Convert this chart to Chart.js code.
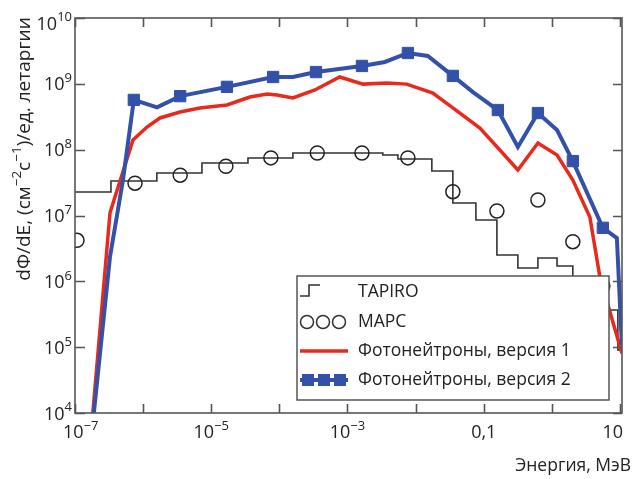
<!DOCTYPE html>
<html lang="ru">
<head>
  <meta charset="UTF-8">
  <title>Спектр фотонейтронов</title>
  <script src="https://cdn.jsdelivr.net/npm/chart.js"></script>
  <style>
    html, body { margin: 0; padding: 0; background: #fff; }
  </style>
</head>
<body>
  <canvas id="spectrum" width="641" height="479"></canvas>

  <script>
    // TAPIRO histogram: left bin edges (MeV) and flux
    const energyTapiro = [1e-7, 3.37e-7, 1.59e-6, 7.3e-6, 3.46e-5, 1.58e-4, 3.3e-3, 5.5e-3, 0.0173,
                          0.0352, 0.0767, 0.156, 0.317, 0.624, 1.19, 2.03, 3.61, 6.64, 9.3, 10.7];
    const fluxTapiro = [2.28e7, 3.34e7, 4.42e7, 6.27e7, 7.47e7, 8.9e7, 8.3e7, 7.2e7, 4.74e7,
                        1.55e7, 8.55e6, 2.51e6, 1.59e6, 2.26e6, 1.71e6, 8.8e5, 5.2e5, 3.66e5, 9.1e4, 9.1e4];

    // МАРС points
    const energyMars = [1.07e-7, 7.6e-7, 3.5e-6, 1.64e-5, 7.5e-5, 3.6e-4, 1.63e-3, 7.7e-3, 0.0352,
                        0.156, 0.624, 2.03, 5.6];
    const fluxMars = [4.2e6, 3.1e7, 4.1e7, 5.6e7, 7.5e7, 8.9e7, 8.9e7, 7.5e7, 2.3e7,
                      1.17e7, 1.72e7, 4.0e6, 8.5e5];

    // Фотонейтроны, версия 1
    const energyV1 = [1.69e-7, 3.26e-7, 3.86e-7, 7.1e-7, 1.14e-6, 1.77e-6, 3.48e-6, 6.8e-6, 1.7e-5,
                      3.7e-5, 6.6e-5, 9.2e-5, 1.58e-4, 3.33e-4, 7.7e-4, 1.69e-3, 3.8e-3, 7.4e-3,
                      0.0179, 0.0352, 0.0879, 0.317, 0.624, 1.19, 2.03, 3.61, 5.07, 10.66];
    const fluxV1 = [3.9e3, 1.09e7, 1.91e7, 1.4e8, 2.21e8, 3.03e8, 3.73e8, 4.3e8, 4.77e8,
                    6.31e8, 7.0e8, 6.76e8, 6.09e8, 8.06e8, 1.27e9, 9.9e8, 1.03e9, 9.9e8,
                    7.26e8, 4.3e8, 2.13e8, 4.91e7, 1.26e8, 8.3e7, 3.46e7, 9.5e6, 1.16e6, 8.1e4];

    // Фотонейтроны, версия 2 (markers only on some points)
    const energyV2 = [1.66e-7, 3.26e-7, 5.06e-7, 7.3e-7, 1.6e-6, 3.5e-6, 1.7e-5, 8.1e-5, 1.58e-4,
                      3.45e-4, 1.63e-3, 3.54e-3, 7.7e-3, 0.0151, 0.0352, 0.0694, 0.161, 0.317,
                      0.624, 1.19, 2.03, 5.6, 9.0, 10.66];
    const fluxV2 = [2.7e3, 2.34e6, 3.46e7, 5.7e8, 4.4e8, 6.5e8, 9.0e8, 1.27e9, 1.27e9,
                    1.51e9, 1.87e9, 2.15e9, 2.94e9, 2.65e9, 1.32e9, 7.5e8, 4.0e8, 1.1e8,
                    3.6e8, 1.99e8, 6.7e7, 6.5e6, 4.55e6, 1.08e5];
    const markedV2 = [3, 5, 6, 7, 9, 10, 12, 14, 16, 18, 20, 21];

    // tick labels: [base, exponent]
    const xTickValues = [1e-7, 1e-6, 1e-5, 1e-4, 1e-3, 1e-2, 0.1, 1, 10];
    const xTickLabels = [['10', '−7'], null, ['10', '−5'], null, ['10', '−3'], null, ['0,1', ''], null, ['10', '']];
    const yTickValues = [1e4, 1e5, 1e6, 1e7, 1e8, 1e9, 1e10];
    const yTickLabels = [['10', '4'], ['10', '5'], ['10', '6'], ['10', '7'], ['10', '8'], ['10', '9'], ['10', '10']];

    const FONT = '"Open Sans", sans-serif';
    const BLUE = '#3451aa';
    const RED = '#e8291c';
    const DARK = '#333';
    const TEXT = '#222';

    const pts = (xs, ys) => xs.map((x, i) => ({ x: x, y: ys[i] }));

    // text made of [string, isSup] pieces, drawn left-aligned at x, baseline y
    function runWidth(ctx, pieces, size, supSize) {
      let w = 0;
      pieces.forEach(p => {
        ctx.font = (p[1] ? supSize : size) + 'px ' + FONT;
        w += ctx.measureText(p[0]).width;
      });
      return w;
    }
    function drawRun(ctx, pieces, x, y, size, supSize) {
      pieces.forEach(p => {
        ctx.font = (p[1] ? supSize : size) + 'px ' + FONT;
        ctx.fillText(p[0], x, p[1] ? y - size * 0.45 : y);
        x += ctx.measureText(p[0]).width;
      });
    }

    // legend box drawn inside the plot, over the data
    const boxLegend = {
      id: 'boxLegend',
      afterDatasetsDraw(chart) {
        const ctx = chart.ctx;
        const ds = chart.data.datasets;
        ctx.save();
        ctx.fillStyle = '#fff';
        ctx.fillRect(297, 276, 312, 124);
        ctx.strokeStyle = '#555';
        ctx.lineWidth = 1.5;
        ctx.strokeRect(297, 276, 312, 124);

        const rows = [292, 322, 351, 380];
        // step icon
        ctx.strokeStyle = DARK;
        ctx.lineWidth = 1.6;
        ctx.beginPath();
        ctx.moveTo(300, rows[0] + 4);
        ctx.lineTo(309, rows[0] + 4);
        ctx.lineTo(309, rows[0] - 7);
        ctx.lineTo(320, rows[0] - 7);
        ctx.stroke();
        // circles
        ctx.lineWidth = 1.5;
        [307, 323, 339].forEach(cx => {
          ctx.beginPath();
          ctx.arc(cx, rows[1], 6.5, 0, Math.PI * 2);
          ctx.stroke();
        });
        // red line
        ctx.strokeStyle = RED;
        ctx.lineWidth = 3.5;
        ctx.beginPath();
        ctx.moveTo(300, rows[2]);
        ctx.lineTo(348, rows[2]);
        ctx.stroke();
        // blue line with squares
        ctx.strokeStyle = BLUE;
        ctx.lineWidth = 4;
        ctx.beginPath();
        ctx.moveTo(300, rows[3]);
        ctx.lineTo(348, rows[3]);
        ctx.stroke();
        ctx.fillStyle = BLUE;
        [308, 324, 340].forEach(cx => ctx.fillRect(cx - 6, rows[3] - 6, 12, 12));

        ctx.fillStyle = TEXT;
        ctx.font = '17.5px ' + FONT;
        ctx.textBaseline = 'middle';
        ctx.textAlign = 'left';
        ds.forEach((d, i) => ctx.fillText(d.label, 358, rows[i]));
        ctx.restore();
      }
    };

    // frame on four sides with inward ticks, tick labels and axis titles
    const frame = {
      id: 'frame',
      afterDraw(chart) {
        const ctx = chart.ctx;
        const a = chart.chartArea;
        const xs = chart.scales.x, ys = chart.scales.y;
        ctx.save();
        ctx.strokeStyle = '#555';
        ctx.lineWidth = 1.6;
        ctx.strokeRect(a.left, a.top, a.right - a.left, a.bottom - a.top);
        ctx.beginPath();
        xTickValues.forEach(v => {
          const px = Math.round(xs.getPixelForValue(v)) + 0.5;
          ctx.moveTo(px, a.bottom); ctx.lineTo(px, a.bottom - 9);
          ctx.moveTo(px, a.top); ctx.lineTo(px, a.top + 9);
        });
        yTickValues.forEach(v => {
          const py = Math.round(ys.getPixelForValue(v)) + 0.5;
          ctx.moveTo(a.left, py); ctx.lineTo(a.left + 10, py);
          ctx.moveTo(a.right, py); ctx.lineTo(a.right - 9, py);
        });
        ctx.stroke();

        ctx.fillStyle = TEXT;
        ctx.textBaseline = 'alphabetic';
        ctx.textAlign = 'left';

        // x tick labels
        xTickValues.forEach((v, i) => {
          const lab = xTickLabels[i];
          if (!lab) return;
          const pieces = [[lab[0], false], [lab[1], true]];
          const w = runWidth(ctx, pieces, 18, 13);
          let x0 = xs.getPixelForValue(v) - w / 2;
          x0 = Math.max(x0, a.left - 12);
          x0 = Math.min(x0, a.right + 1 - w);
          drawRun(ctx, pieces, x0, a.bottom + 25, 18, 13);
        });

        // y tick labels
        yTickValues.forEach((v, i) => {
          const lab = yTickLabels[i];
          const pieces = [[lab[0], false], [lab[1], true]];
          const w = runWidth(ctx, pieces, 18, 13);
          const cy = Math.max(ys.getPixelForValue(v), 23);
          drawRun(ctx, pieces, a.left - 3 - w, cy + 6.5, 18, 13);
        });

        // x title
        ctx.font = '17.5px ' + FONT;
        ctx.textAlign = 'right';
        ctx.textBaseline = 'middle';
        ctx.fillText('Энергия, МэВ', 631, 466);

        // y title, rotated
        const title = [['dΦ/dE, (см', false], ['−2', true], ['с', false], ['−1', true], [')/ед. летаргии', false]];
        ctx.textAlign = 'left';
        ctx.textBaseline = 'alphabetic';
        ctx.translate(30, 149);
        ctx.rotate(-Math.PI / 2);
        const tw = runWidth(ctx, title, 19, 13.5);
        drawRun(ctx, title, -tw / 2, 0, 19, 13.5);
        ctx.restore();
      }
    };

    new Chart(document.getElementById('spectrum'), {
      type: 'line',
      data: {
        datasets: [
          {
            label: 'TAPIRO',
            data: pts(energyTapiro, fluxTapiro),
            stepped: 'before',
            borderColor: DARK,
            borderWidth: 1.6,
            pointRadius: 0,
            fill: false,
            order: 3
          },
          {
            label: 'МАРС',
            data: pts(energyMars, fluxMars),
            showLine: false,
            pointStyle: 'circle',
            pointRadius: 7,
            pointBorderWidth: 1.5,
            pointBorderColor: '#222',
            pointBackgroundColor: 'rgba(0,0,0,0)',
            order: 2
          },
          {
            label: 'Фотонейтроны, версия 1',
            data: pts(energyV1, fluxV1),
            borderColor: RED,
            borderWidth: 3.5,
            pointRadius: 0,
            tension: 0,
            order: 1
          },
          {
            label: 'Фотонейтроны, версия 2',
            data: pts(energyV2, fluxV2),
            borderColor: BLUE,
            borderWidth: 4,
            pointStyle: 'rect',
            pointRadius: ctx => markedV2.includes(ctx.dataIndex) ? 8 : 0,
            pointBackgroundColor: BLUE,
            pointBorderColor: BLUE,
            pointBorderWidth: 1,
            tension: 0,
            order: 0
          }
        ]
      },
      options: {
        responsive: false,
        animation: false,
        layout: { padding: { top: 18, right: 19, left: 0, bottom: 0 } },
        plugins: {
          legend: { display: false },
          tooltip: { enabled: false }
        },
        scales: {
          x: {
            type: 'logarithmic',
            min: 1e-7,
            max: 10.7,
            afterBuildTicks: s => { s.ticks = xTickValues.map(v => ({ value: v })); },
            afterFit: s => { s.height = 66; },
            grid: { display: false, drawTicks: false },
            border: { display: false },
            ticks: { display: false }
          },
          y: {
            type: 'logarithmic',
            min: 1e4,
            max: 1e10,
            afterBuildTicks: s => { s.ticks = yTickValues.map(v => ({ value: v })); },
            afterFit: s => { s.width = 75; },
            grid: { display: false, drawTicks: false },
            border: { display: false },
            ticks: { display: false }
          }
        }
      },
      plugins: [boxLegend, frame]
    });
  </script>
</body>
</html>
